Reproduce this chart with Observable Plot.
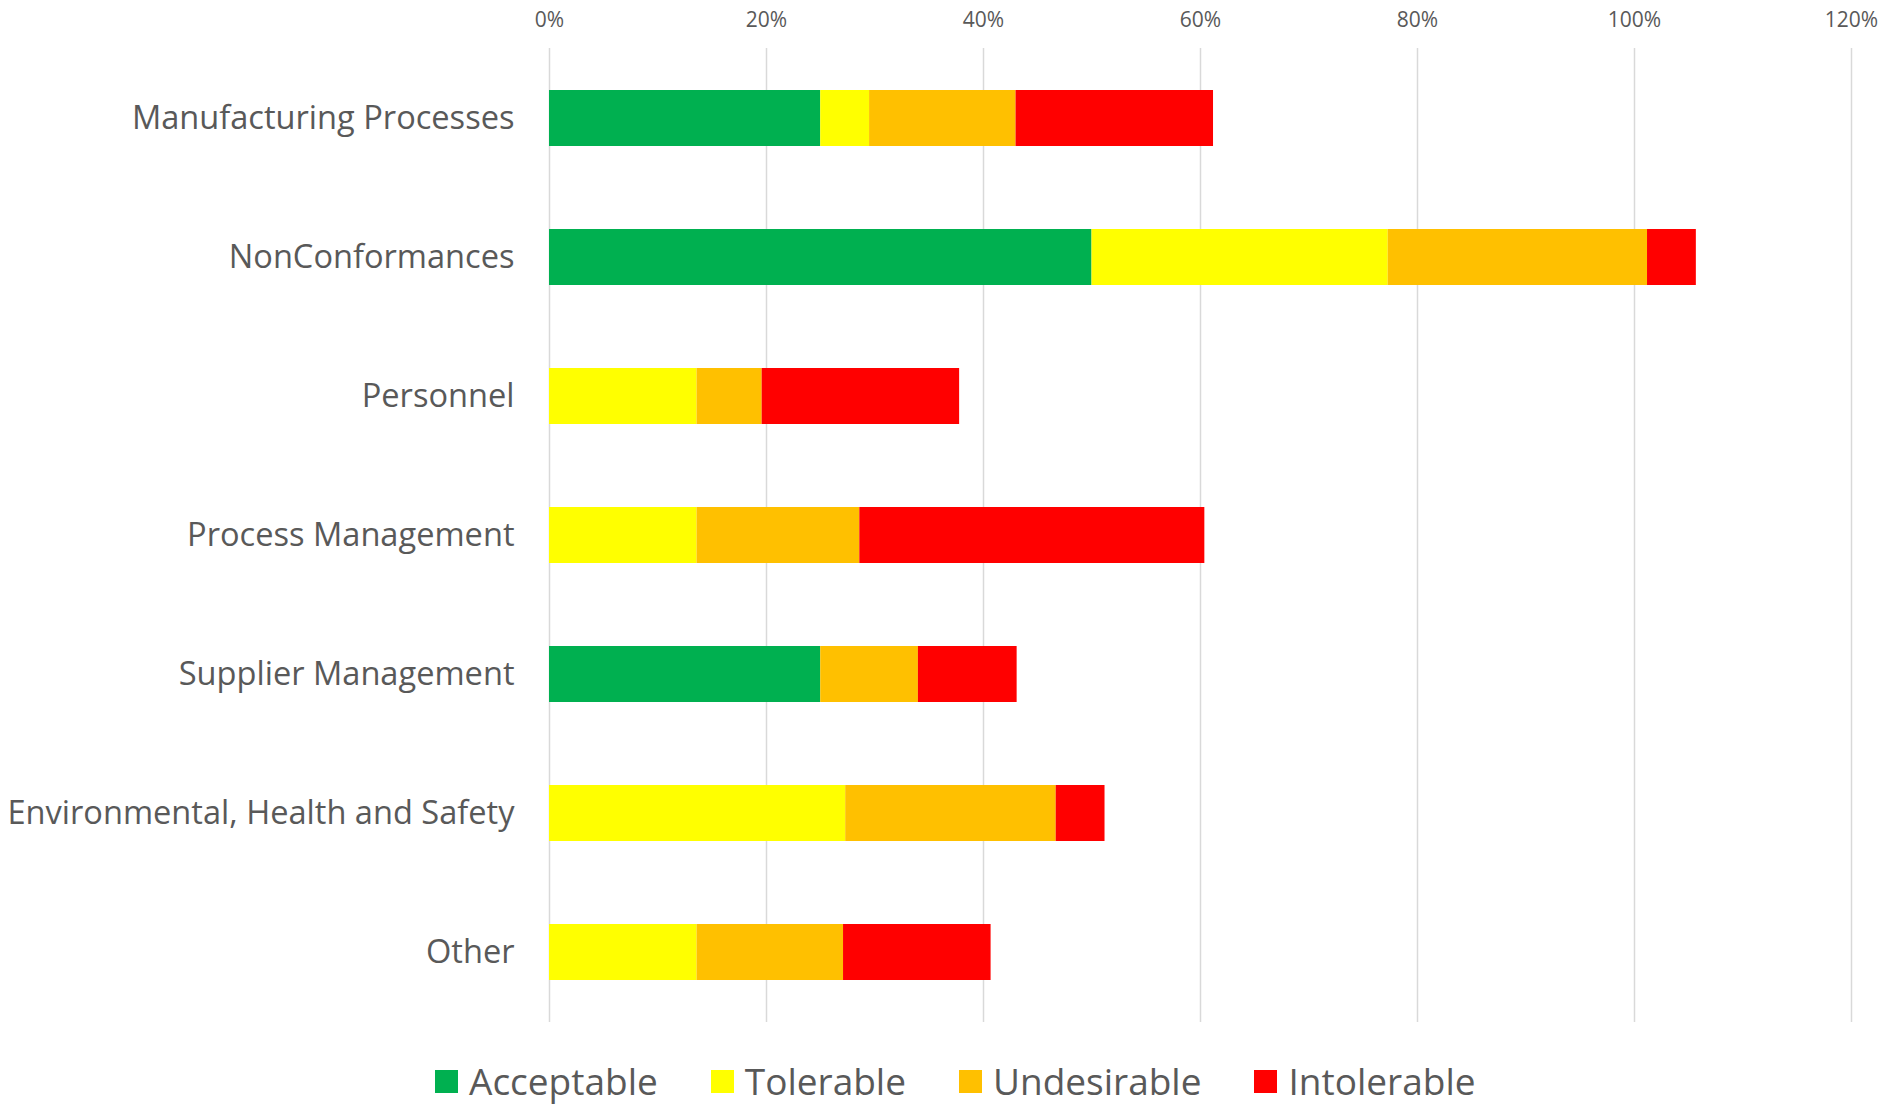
<!DOCTYPE html>
<html>
<head>
<meta charset="utf-8">
<script src="https://cdn.jsdelivr.net/npm/d3@7"></script>
<script src="https://cdn.jsdelivr.net/npm/@observablehq/plot@0.6"></script>
<style>
  html, body { margin: 0; padding: 0; background: #fff; }
  body { width: 1883px; height: 1105px; overflow: hidden; font-family: "Open Sans", sans-serif; position: relative; }
  #legend { position: absolute; left: 435px; top: 1056px; height: 50px; display: flex; align-items: center; gap: 53px; font-size: 37px; color: #595959; line-height: 50px; }
  #legend .item { display: flex; align-items: center; gap: 11px; }
  #legend .sw { width: 23px; height: 23px; display: inline-block; }
</style>
</head>
<body>
<div id="chart"></div>
<div id="legend"></div>
<script>
const categories = ["Manufacturing Processes", "NonConformances", "Personnel", "Process Management", "Supplier Management", "Environmental, Health and Safety", "Other"];
const series = ["Acceptable", "Tolerable", "Undesirable", "Intolerable"];
const colors = ["#00B050", "#FFFF00", "#FFC000", "#FF0000"];
const acceptable  = [25,   50,   0,    0,    25,  0,    0];
const tolerable   = [4.5,  27.3, 13.6, 13.6, 0,   27.3, 13.6];
const undesirable = [13.5, 23.9, 6.0,  15.0, 9.0, 19.4, 13.5];
const intolerable = [18.2, 4.5,  18.2, 31.8, 9.1, 4.5,  13.6];
const xTicks = [0, 20, 40, 60, 80, 100, 120];

const valuesBySeries = [acceptable, tolerable, undesirable, intolerable];
const data = [];
series.forEach((s, si) => {
  categories.forEach((c, ci) => {
    data.push({category: c, series: s, value: valuesBySeries[si][ci]});
  });
});

const chart = Plot.plot({
  width: 1883,
  height: 1034,
  marginLeft: 549,
  marginRight: 32,
  marginTop: 48,
  marginBottom: 12,
  style: {fontFamily: "'Open Sans', sans-serif", color: "#595959", background: "#fff"},
  x: {domain: [0, 120], ticks: xTicks, label: null},
  y: {domain: categories, paddingInner: 0.6, paddingOuter: 0.3, label: null},
  color: {domain: series, range: colors},
  marks: [
    Plot.gridX(xTicks, {stroke: "#D9D9D9", strokeOpacity: 1, strokeWidth: 1.5}),
    Plot.barX(data, Plot.stackX({x: "value", y: "category", fill: "series", order: series})),
    Plot.axisX(xTicks, {anchor: "top", label: null, tickSize: 0, tickPadding: 22, fontSize: 21, fill: "#595959", tickFormat: d => d + "%"}),
    Plot.axisY({label: null, tickSize: 0, tickPadding: 35, fontSize: 32.6, fill: "#595959"})
  ]
});
document.getElementById("chart").appendChild(chart);

const legend = document.getElementById("legend");
series.forEach((s, i) => {
  const item = document.createElement("div");
  item.className = "item";
  const sw = document.createElement("span");
  sw.className = "sw";
  sw.style.background = colors[i];
  const label = document.createElement("span");
  label.textContent = s;
  item.appendChild(sw);
  item.appendChild(label);
  legend.appendChild(item);
});
</script>
</body>
</html>
